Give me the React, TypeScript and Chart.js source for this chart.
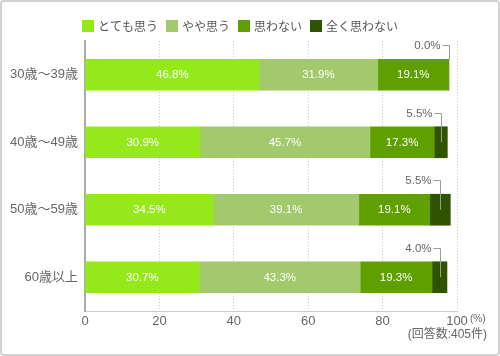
import React, { useEffect, useRef } from 'react';
import { Chart, registerables } from 'chart.js';
Chart.register(...registerables);

const categories = ['30歳〜39歳', '40歳〜49歳', '50歳〜59歳', '60歳以上'];
const seriesNames = ['とても思う', 'やや思う', '思わない', '全く思わない'];
const colors = ['#95E81A', '#A2C96B', '#5F9F00', '#2F5300'];
const totemo = [46.8, 30.9, 34.5, 30.7];
const yaya = [31.9, 45.7, 39.1, 43.3];
const omowanai = [19.1, 17.3, 19.1, 19.3];
const mattaku = [0.0, 3.5, 5.5, 4.0]; // lengths as drawn in the picture
const mattakuLabels = ['0.0%', '5.5%', '5.5%', '4.0%'];
const xTicks = [0, 20, 40, 60, 80, 100];
const unitLabel = '(%)';
const noteLabel = '(回答数:405件)';

const FONT = '"Liberation Sans", "Noto Sans CJK JP", sans-serif';
const JFONT = '"Noto Sans CJK JP", sans-serif';

const customPlugin = {
  id: 'customDraw',
  beforeDraw(chart: any) {
    const ctx = chart.ctx;
    ctx.save();
    ctx.fillStyle = '#ffffff';
    ctx.fillRect(0, 0, chart.width, chart.height);
    ctx.strokeStyle = '#d2d2d2';
    ctx.lineWidth = 2;
    ctx.beginPath();
    (ctx as any).roundRect ? (ctx as any).roundRect(1, 1, chart.width - 2, chart.height - 2, 3) : ctx.rect(1, 1, chart.width - 2, chart.height - 2);
    ctx.stroke();
    ctx.restore();
  },
  afterDatasetsDraw(chart: any) {
    const ctx = chart.ctx;
    ctx.save();
    chart.data.datasets.forEach((ds: any, di: number) => {
      const meta = chart.getDatasetMeta(di);
      meta.data.forEach((el: any, i: number) => {
        const p = el.getProps(['x', 'y', 'base', 'height'], true);
        const cx = (p.x + p.base) / 2;
        if (di < 3) {
          ctx.font = '11.5px ' + FONT;
          ctx.fillStyle = '#ffffff';
          ctx.textAlign = 'center';
          ctx.textBaseline = 'middle';
          ctx.fillText(ds.data[i].toFixed(1) + '%', cx, p.y + 0.5);
        } else {
          const w = Math.abs(p.x - p.base);
          const top = p.y - p.height / 2;
          const ly = Math.round(top - 14) + 0.5;
          const vx = Math.round(cx) + 0.5;
          const endY = w < 1 ? top : p.y;
          ctx.strokeStyle = '#9a9a9a';
          ctx.lineWidth = 1;
          ctx.beginPath();
          ctx.moveTo(vx - 7, ly);
          ctx.lineTo(vx, ly);
          ctx.lineTo(vx, endY);
          ctx.stroke();
          ctx.font = '11.5px ' + FONT;
          ctx.fillStyle = '#666666';
          ctx.textAlign = 'right';
          ctx.textBaseline = 'middle';
          ctx.fillText(mattakuLabels[i], vx - 9, ly + 0.5);
        }
      });
    });
    ctx.restore();
  },
  afterDraw(chart: any) {
    const ctx = chart.ctx;
    const area = chart.chartArea;
    ctx.save();
    // legend
    ctx.font = '12px ' + JFONT;
    ctx.textBaseline = 'middle';
    ctx.textAlign = 'left';
    let x = 82;
    const y = 26;
    chart.data.datasets.forEach((ds: any) => {
      ctx.fillStyle = ds.backgroundColor;
      ctx.fillRect(x, y - 6, 12, 12);
      ctx.fillStyle = '#555555';
      ctx.fillText(ds.label, x + 16, y + 0.5);
      x += 16 + ctx.measureText(ds.label).width + 8;
    });
    // unit
    ctx.font = '10px ' + FONT;
    ctx.fillStyle = '#666666';
    ctx.fillText(unitLabel, area.right + 13, 319);
    ctx.font = '12px ' + FONT;
    ctx.textAlign = 'right';
    ctx.fillText(noteLabel, 487, 335);
    ctx.restore();
  },
};

export default function App() {
  const ref = useRef<HTMLCanvasElement | null>(null);
  useEffect(() => {
    if (!ref.current) return;
    const series = [totemo, yaya, omowanai, mattaku];
    const chart = new Chart(ref.current, {
      type: 'bar',
      data: {
        labels: categories,
        datasets: series.map((d, i) => ({
          label: seriesNames[i],
          data: d,
          backgroundColor: colors[i],
          borderWidth: 0,
          barThickness: 31,
        })),
      },
      options: {
        indexAxis: 'y',
        animation: false,
        responsive: false,
        events: [],
        layout: { padding: { top: 41, left: 0, right: 43, bottom: 0 } },
        plugins: {
          legend: { display: false },
          tooltip: { enabled: false },
        },
        scales: {
          x: {
            stacked: true,
            min: 0,
            max: 100,
            afterBuildTicks: (scale: any) => {
              scale.ticks = xTicks.map((v) => ({ value: v }));
            },
            afterFit: (scale: any) => {
              scale.height = 45;
            },
            ticks: {
              font: { size: 13, family: FONT },
              color: '#666666',
              padding: 3,
            },
            grid: {
              drawTicks: false,
              color: (c: any) => (c.tick && c.tick.value === 0 ? 'rgba(0,0,0,0)' : '#cccccc'),
              lineWidth: 1,
            },
            border: { display: true, color: '#cccccc', width: 1, dash: [1, 2] },
          },
          y: {
            stacked: true,
            afterFit: (scale: any) => {
              scale.width = 85;
            },
            ticks: {
              font: { size: 13, family: FONT },
              color: '#666666',
              padding: 7,
            },
            grid: { display: false, drawTicks: false },
            border: { display: true, color: '#aaaaaa', width: 2 },
          },
        },
      },
      plugins: [customPlugin],
    } as any);
    return () => chart.destroy();
  }, []);
  return (
    <div style={{ position: 'absolute', left: 0, top: 0, width: 500, height: 356 }}>
      <canvas ref={ref} width={500} height={356} />
    </div>
  );
}
